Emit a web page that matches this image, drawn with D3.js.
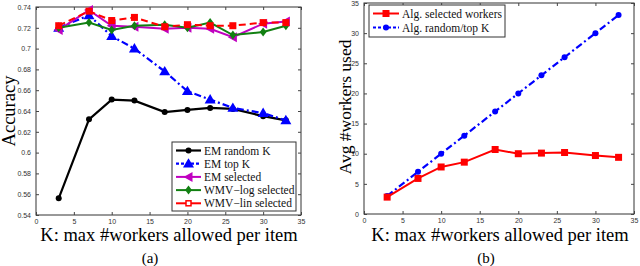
<!DOCTYPE html>
<html>
<head>
<meta charset="utf-8">
<script src="https://cdn.jsdelivr.net/npm/d3@7"></script>
<style>
  body { margin: 0; background: #fff; }
  .tick text { font-family: "Liberation Sans", Arial, sans-serif; font-size: 7px; fill: #333; }
  .domain { stroke: none; }
  .tick line { stroke: #444; }
</style>
</head>
<body>
<svg id="chart" width="640" height="266"></svg>
<script>
// K values (shared by both panels)
var kValues = [3, 7, 10, 13, 17, 20, 23, 26, 30, 33];

// panel (a): accuracy
var emRandomK = [0.556, 0.632, 0.651, 0.650, 0.639, 0.641, 0.643, 0.642, 0.635, 0.631];
var emTopK = [0.720, 0.732, 0.712, 0.700, 0.678, 0.659, 0.651, 0.643, 0.638, 0.631];
var emSelected = [0.718, 0.737, 0.722, 0.721, 0.719, 0.720, 0.719, 0.711, 0.724, 0.726];
var wmvLogSelected = [0.720, 0.725, 0.718, 0.722, 0.723, 0.720, 0.725, 0.713, 0.716, 0.722];
var wmvLinSelected = [0.722, 0.736, 0.727, 0.730, 0.721, 0.723, 0.722, 0.722, 0.725, 0.725];

// panel (b): avg workers used
var algSelected = [2.8, 5.9, 7.8, 8.6, 10.7, 10.0, 10.1, 10.2, 9.7, 9.4];
var algRandomTopK = [3, 7, 10, 13, 17, 20, 23, 26, 30, 33];

var xTicks = [0, 5, 10, 15, 20, 25, 30, 35];
var accTicks = [0.54, 0.56, 0.58, 0.6, 0.62, 0.64, 0.66, 0.68, 0.7, 0.72, 0.74];
var avgTicks = [0, 5, 10, 15, 20, 25, 30, 35];

var svg = d3.select("#chart");
var serif = "'Liberation Serif', 'Times New Roman', serif";

function frame(g, x, y, xt, yt, yfmt) {
  var w = x.range()[1] - x.range()[0];
  var h = y.range()[0] - y.range()[1];
  g.append("rect")
    .attr("x", x.range()[0]).attr("y", y.range()[1])
    .attr("width", w).attr("height", h)
    .attr("fill", "#fff").attr("stroke", "#333").attr("stroke-width", 1);
  g.append("g")
    .attr("transform", "translate(0," + y.range()[0] + ")")
    .call(d3.axisBottom(x).tickValues(xt).tickSize(-3).tickPadding(4).tickFormat(d3.format("d")));
  g.append("g")
    .attr("transform", "translate(0," + y.range()[1] + ")")
    .call(d3.axisTop(x).tickValues(xt).tickSize(-3).tickFormat(""));
  g.append("g")
    .attr("transform", "translate(" + x.range()[0] + ",0)")
    .call(d3.axisLeft(y).tickValues(yt).tickSize(-3).tickPadding(5).tickFormat(yfmt));
  g.append("g")
    .attr("transform", "translate(" + x.range()[1] + ",0)")
    .call(d3.axisRight(y).tickValues(yt).tickSize(-3).tickFormat(""));
}

function marker(g, type, cx, cy, color) {
  var s;
  if (type == "circle") {
    g.append("circle").attr("cx", cx).attr("cy", cy).attr("r", 3).attr("fill", color);
  } else if (type == "triUp") {
    s = 5.5;
    g.append("path").attr("d", "M" + cx + "," + (cy - s) + "L" + (cx + s) + "," + (cy + s * 0.7) + "L" + (cx - s) + "," + (cy + s * 0.7) + "Z").attr("fill", color);
  } else if (type == "triLeft") {
    s = 5;
    g.append("path").attr("d", "M" + (cx - s) + "," + cy + "L" + (cx + s * 0.8) + "," + (cy - s) + "L" + (cx + s * 0.8) + "," + (cy + s) + "Z").attr("fill", color);
  } else if (type == "diamond") {
    s = 4.5;
    g.append("path").attr("d", "M" + cx + "," + (cy - s) + "L" + (cx + s * 0.75) + "," + cy + "L" + cx + "," + (cy + s) + "L" + (cx - s * 0.75) + "," + cy + "Z").attr("fill", color);
  } else if (type == "square") {
    s = 3.5;
    g.append("rect").attr("x", cx - s).attr("y", cy - s).attr("width", 2 * s).attr("height", 2 * s).attr("fill", color);
  } else if (type == "hollowSquare") {
    s = 2.5;
    g.append("rect").attr("x", cx - s).attr("y", cy - s).attr("width", 2 * s).attr("height", 2 * s)
      .attr("fill", "#fff").attr("stroke", color).attr("stroke-width", 1.5);
  }
}

function series(g, x, y, vals, color, dash, width, mk) {
  var line = d3.line()
    .x(function (d, i) { return x(kValues[i]); })
    .y(function (d) { return y(d); });
  g.append("path")
    .datum(vals)
    .attr("d", line)
    .attr("fill", "none")
    .attr("stroke", color)
    .attr("stroke-width", width)
    .attr("stroke-dasharray", dash);
  vals.forEach(function (v, i) { marker(g, mk, x(kValues[i]), y(v), color); });
}

function legend(g, x0, y0, w, h, items, lineLen, rowH, fs) {
  g.append("rect")
    .attr("x", x0).attr("y", y0).attr("width", w).attr("height", h)
    .attr("fill", "#fff").attr("stroke", "#333").attr("stroke-width", 1);
  items.forEach(function (it, i) {
    var yy = y0 + 8.5 + i * rowH;
    g.append("line")
      .attr("x1", x0 + 4).attr("x2", x0 + 4 + lineLen)
      .attr("y1", yy).attr("y2", yy)
      .attr("stroke", it.color).attr("stroke-width", it.width)
      .attr("stroke-dasharray", it.legendDash);
    marker(g, it.legendMk || it.mk, x0 + 4 + lineLen / 2, yy, it.color);
    g.append("text")
      .attr("x", x0 + 7 + lineLen).attr("y", yy + 4)
      .style("font-family", serif).style("font-size", fs + "px")
      .attr("fill", "#111")
      .text(it.name);
  });
}

// ---------- panel (a) ----------
var xa = d3.scaleLinear().domain([0, 35]).range([36, 301]);
var ya = d3.scaleLinear().domain([0.54, 0.74]).range([215, 7]);
var ga = svg.append("g");
frame(ga, xa, ya, xTicks, accTicks, function (d) { return d3.format("")(+d.toFixed(2)); });

var seriesA = [
  { name: "EM random K", vals: emRandomK, color: "#000000", dash: null, legendDash: null, width: 2.2, mk: "circle" },
  { name: "EM top K", vals: emTopK, color: "#0000ff", dash: "7,3,2,3", legendDash: "3,2", width: 2.2, mk: "triUp" },
  { name: "EM selected", vals: emSelected, color: "#c000c0", dash: null, legendDash: null, width: 2, mk: "triLeft" },
  { name: "WMV\u2212log selected", vals: wmvLogSelected, color: "#128012", dash: null, legendDash: null, width: 2, mk: "diamond" },
  { name: "WMV\u2212lin selected", vals: wmvLinSelected, color: "#ff0000", dash: "7,4", legendDash: null, width: 2, mk: "square", legendMk: "hollowSquare" }
];
seriesA.forEach(function (s) { series(ga, xa, ya, s.vals, s.color, s.dash, s.width, s.mk); });
legend(ga, 172, 142, 124, 69, seriesA, 25, 13.2, 11.5);

ga.append("text")
  .attr("transform", "translate(15,111) rotate(-90)")
  .attr("text-anchor", "middle")
  .style("font-family", serif).style("font-size", "18.5px")
  .text("Accuracy");
ga.append("text")
  .attr("x", 169).attr("y", 241)
  .attr("text-anchor", "middle")
  .style("font-family", serif).style("font-size", "18.5px")
  .text("K: max #workers allowed per item");
ga.append("text")
  .attr("x", 150).attr("y", 263)
  .attr("text-anchor", "middle")
  .style("font-family", serif).style("font-size", "15px")
  .text("(a)");

// ---------- panel (b) ----------
var xb = d3.scaleLinear().domain([0, 35]).range([364, 634]);
var yb = d3.scaleLinear().domain([0, 35]).range([214, 3]);
var gb = svg.append("g");
frame(gb, xb, yb, xTicks, avgTicks, d3.format("d"));

var seriesB = [
  { name: "Alg. selected workers", vals: algSelected, color: "#ff0000", dash: null, legendDash: null, width: 2, mk: "square" },
  { name: "Alg. random/top K", vals: algRandomTopK, color: "#0000ff", dash: "7,3,2,3", legendDash: "3,2", width: 2.2, mk: "circle" }
];
series(gb, xb, yb, algRandomTopK, "#0000ff", "7,3,2,3", 2.2, "circle");
series(gb, xb, yb, algSelected, "#ff0000", null, 2, "square");
legend(gb, 369, 5, 136, 32, seriesB, 26, 14, 11.5);

gb.append("text")
  .attr("transform", "translate(351,107) rotate(-90)")
  .attr("text-anchor", "middle")
  .style("font-family", serif).style("font-size", "17.5px")
  .text("Avg #workers used");
gb.append("text")
  .attr("x", 500).attr("y", 241)
  .attr("text-anchor", "middle")
  .style("font-family", serif).style("font-size", "18.5px")
  .text("K: max #workers allowed per item");
gb.append("text")
  .attr("x", 486).attr("y", 263)
  .attr("text-anchor", "middle")
  .style("font-family", serif).style("font-size", "15px")
  .text("(b)");
</script>
</body>
</html>
